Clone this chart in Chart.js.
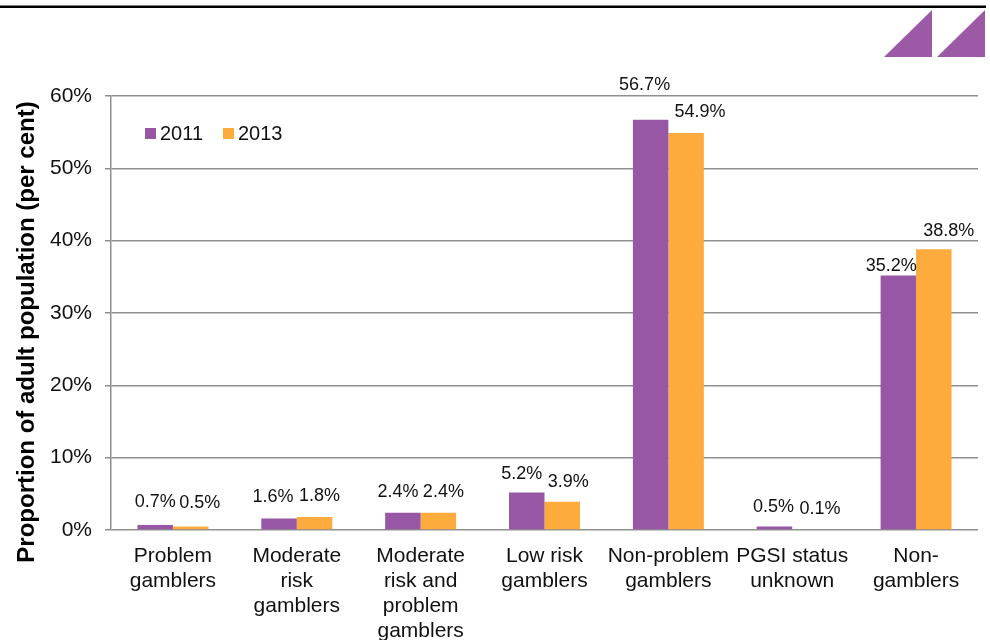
<!DOCTYPE html>
<html>
<head>
<meta charset="utf-8">
<script src="https://cdn.jsdelivr.net/npm/chart.js@4.4.0/dist/chart.umd.min.js"></script>
<style>
  html, body { margin: 0; padding: 0; background: #fff; }
  #wrap { width: 990px; height: 640px; }
</style>
</head>
<body>
<div id="wrap"><canvas id="gamblingChart" width="990" height="640"></canvas></div>
<script>
// Data
const categories = [
    ['Problem', 'gamblers'],
    ['Moderate', 'risk', 'gamblers'],
    ['Moderate', 'risk and', 'problem', 'gamblers'],
    ['Low risk', 'gamblers'],
    ['Non-problem', 'gamblers'],
    ['PGSI status', 'unknown'],
    ['Non-', 'gamblers']
];
const seriesNames = ['2011', '2013'];
const values2011 = [0.7, 1.6, 2.4, 5.2, 56.7, 0.5, 35.2];
const values2013 = [0.5, 1.8, 2.4, 3.9, 54.9, 0.1, 38.8];
const yTicks = [0, 10, 20, 30, 40, 50, 60];

const FONT = '"Liberation Sans", Arial, sans-serif';
const PURPLE = '#9757a5';
const ORANGE = '#fdab3d';
const GRID = '#8f8f8f';

// label offsets (dx, dy) from the top-centre of each bar
const labelShift = [
    [[0, -23], [-6, -21], [-5, -21], [-5, -18], [-6, -35], [-1, -19], [-7, -9]],
    [[9, -23], [5, -21], [5, -21], [6, -20], [14, -21], [10, -20], [15, -18]]
];

const decorPlugin = {
    id: 'decor',
    afterDraw(chart) {
        const ctx = chart.ctx;
        ctx.save();

        // rule across the top
        ctx.fillStyle = '#000';
        ctx.fillRect(0, 5.5, 986, 2.5);

        // two purple triangles, top right
        ctx.fillStyle = '#9b59a6';
        [[884, 932], [937, 985]].forEach(([x0, x1]) => {
            ctx.beginPath();
            ctx.moveTo(x0, 57);
            ctx.lineTo(x1, 57);
            ctx.lineTo(x1, 10);
            ctx.closePath();
            ctx.fill();
        });

        // value labels
        ctx.fillStyle = '#111';
        ctx.font = '18px ' + FONT;
        ctx.textAlign = 'center';
        ctx.textBaseline = 'middle';
        chart.data.datasets.forEach((ds, di) => {
            const meta = chart.getDatasetMeta(di);
            meta.data.forEach((bar, i) => {
                const [dx, dy] = labelShift[di][i];
                ctx.fillText(ds.data[i].toFixed(1) + '%', bar.x + dx, bar.y + dy);
            });
        });

        // legend
        ctx.font = '20px ' + FONT;
        ctx.textAlign = 'left';
        const legendX = [145, 223];
        chart.data.datasets.forEach((ds, di) => {
            ctx.fillStyle = ds.backgroundColor;
            ctx.fillRect(legendX[di], 128, 11, 11);
            ctx.fillStyle = '#111';
            ctx.fillText(ds.label, legendX[di] + 15, 134);
        });

        // y axis title
        ctx.translate(27, 332);
        ctx.rotate(-Math.PI / 2);
        ctx.font = 'bold 24px ' + FONT;
        ctx.textAlign = 'center';
        ctx.fillStyle = '#000';
        ctx.fillText('Proportion of adult population (per cent)', 0, 0);

        ctx.restore();
    }
};

new Chart(document.getElementById('gamblingChart'), {
    type: 'bar',
    data: {
        labels: categories,
        datasets: [
            { label: seriesNames[0], data: values2011, backgroundColor: PURPLE },
            { label: seriesNames[1], data: values2013, backgroundColor: ORANGE }
        ]
    },
    options: {
        responsive: false,
        animation: false,
        layout: { padding: { top: 96, right: 12, left: 0, bottom: 0 } },
        datasets: {
            bar: { categoryPercentage: 0.573, barPercentage: 1.0 }
        },
        plugins: {
            legend: { display: false },
            tooltip: { enabled: false }
        },
        scales: {
            x: {
                grid: { display: false },
                border: { display: false },
                ticks: {
                    color: '#111',
                    padding: 6,
                    maxRotation: 0,
                    autoSkip: false,
                    font: { family: FONT, size: 21, lineHeight: 1.19 }
                },
                afterFit(scale) { scale.height = 110; }
            },
            y: {
                min: 0,
                max: 60,
                afterBuildTicks(scale) {
                    scale.ticks = yTicks.map(v => ({ value: v }));
                },
                grid: { color: GRID, lineWidth: 1.5, tickLength: 6, tickColor: GRID },
                border: { color: GRID, width: 1.5 },
                ticks: {
                    color: '#111',
                    padding: 13,
                    font: { family: FONT, size: 21 },
                    callback: v => v + '%'
                },
                afterFit(scale) { scale.width = 111; }
            }
        }
    },
    plugins: [decorPlugin]
});
</script>
</body>
</html>
